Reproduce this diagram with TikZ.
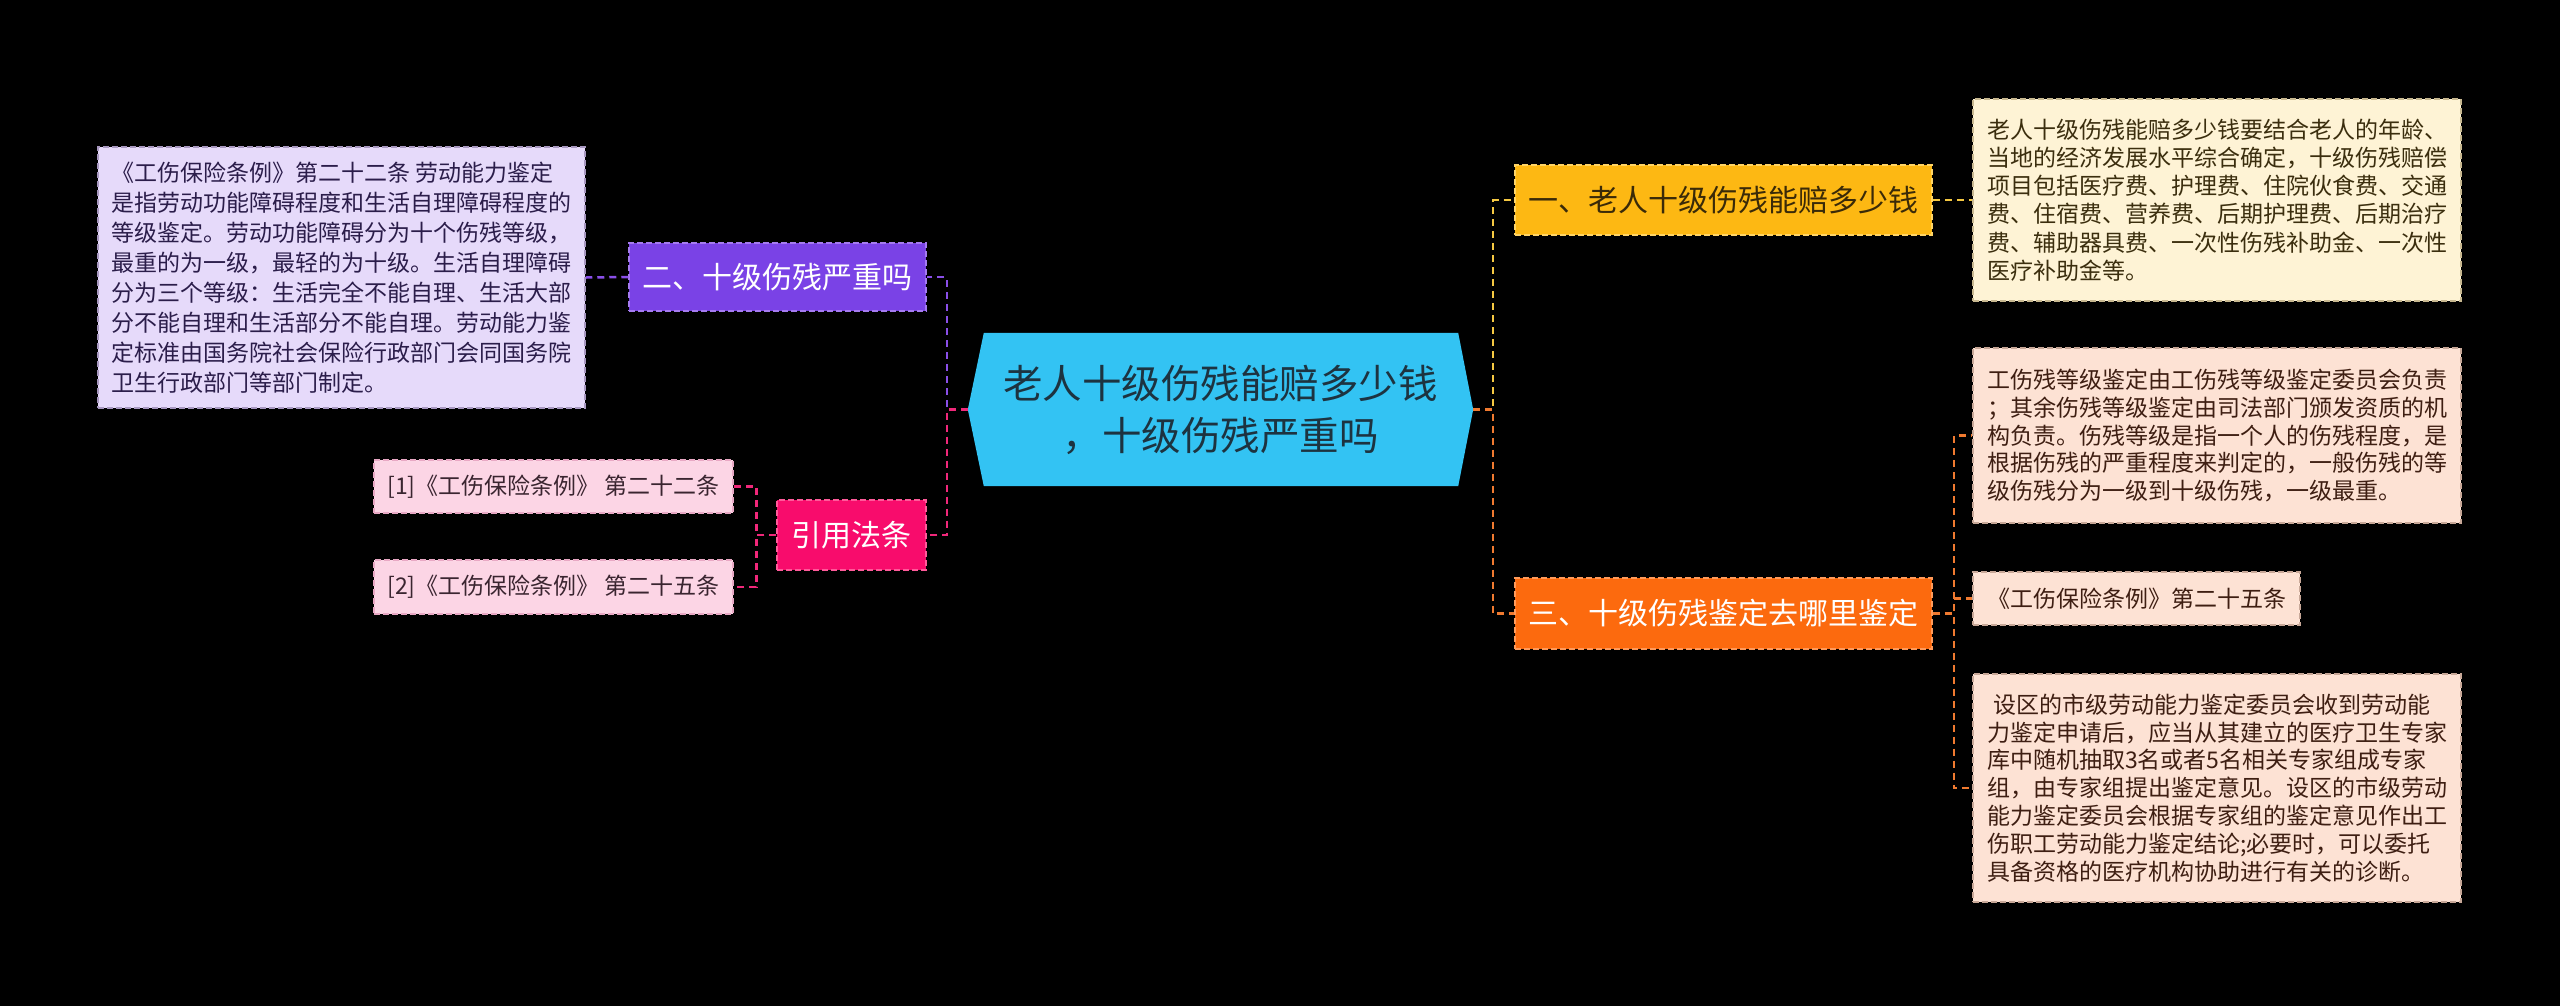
\documentclass[tikz,border=0pt]{standalone}
\usepackage{fontspec}
\setmainfont{Noto Sans CJK SC}
\usetikzlibrary{backgrounds}
\definecolor{bgc}{HTML}{000000}
\definecolor{hexfill}{HTML}{33C3F3}
\definecolor{hextext}{HTML}{1D3340}
\definecolor{purpF}{HTML}{7A42E6}
\definecolor{purpD}{HTML}{A57BF0}
\definecolor{lavF}{HTML}{E6DAFA}
\definecolor{lavD}{HTML}{A898C0}
\definecolor{lavT}{HTML}{2B1D4A}
\definecolor{pinkF}{HTML}{F80C6C}
\definecolor{pinkD}{HTML}{FF5A9A}
\definecolor{rosF}{HTML}{FCD5E5}
\definecolor{rosD}{HTML}{E8A8C4}
\definecolor{rosT}{HTML}{3A2530}
\definecolor{ambF}{HTML}{FDB813}
\definecolor{ambD}{HTML}{FFD466}
\definecolor{ambT}{HTML}{3A2A08}
\definecolor{creF}{HTML}{FEF3D5}
\definecolor{creD}{HTML}{C8B890}
\definecolor{creT}{HTML}{3B2E0E}
\definecolor{orgF}{HTML}{FC6A0E}
\definecolor{orgD}{HTML}{FF9A5A}
\definecolor{peaF}{HTML}{FDE2D4}
\definecolor{peaD}{HTML}{C8A898}
\definecolor{peaT}{HTML}{3E1E12}
\definecolor{cP}{HTML}{8A4FE8}
\definecolor{cR}{HTML}{F0287A}
\definecolor{cY}{HTML}{F5C842}
\definecolor{cO}{HTML}{F07A30}
\begin{document}
\begin{tikzpicture}[x=1pt,y=-1pt,
  boxbase/.style={rectangle, line width=1.5pt, dash pattern=on 6pt off 3pt, inner sep=4pt},
  leafP/.style={boxbase, fill=lavF, draw=lavD, text=lavT, align=left, font=\fontsize{23}{30}\selectfont},
  leafR/.style={boxbase, fill=rosF, draw=rosD, text=rosT, font=\fontsize{23}{28}\selectfont},
  leafY/.style={boxbase, fill=creF, draw=creD, text=creT, align=left, font=\fontsize{23}{28.3}\selectfont},
  leafO/.style={boxbase, fill=peaF, draw=peaD, text=peaT, align=left, font=\fontsize{23}{27.8}\selectfont},
  branch/.style={boxbase, font=\fontsize{30}{36}\selectfont},
  con/.style={line width=2.5pt, dash pattern=on 7pt off 5pt},
  conP/.style={con, draw=cP},
  conR/.style={con, draw=cR},
  conY/.style={con, draw=cY},
  conO/.style={con, draw=cO}]
\useasboundingbox (0,0) rectangle (2560,1005);

% central node
\node[minimum width=505, minimum height=153, inner sep=0pt, align=center, text=hextext,
      font=\fontsize{39.5}{52}\selectfont] (C) at (1220.5,409.5)
  {老人十级伤残能赔多少钱\\，十级伤残严重吗};

% left side
\node[leafP, minimum width=487, minimum height=261] (L1) at (341.5,277.5)
  {《工伤保险条例》第二十二条 劳动能力鉴定\\
   是指劳动功能障碍程度和生活自理障碍程度的\\
   等级鉴定。劳动功能障碍分为十个伤残等级，\\
   最重的为一级，最轻的为十级。生活自理障碍\\
   分为三个等级：生活完全不能自理、生活大部\\
   分不能自理和生活部分不能自理。劳动能力鉴\\
   定标准由国务院社会保险行政部门会同国务院\\
   卫生行政部门等部门制定。};
\node[branch, fill=purpF, draw=purpD, text=white, minimum width=297, minimum height=68] (B2) at (777.5,277) {二、十级伤残严重吗};
\node[leafR, minimum width=359, minimum height=53] (P1) at (553.5,486.5) {[1]《工伤保险条例》 第二十二条};
\node[leafR, minimum width=359, minimum height=54] (P2) at (553.5,587) {[2]《工伤保险条例》 第二十五条};
\node[branch, fill=pinkF, draw=pinkD, text=white, minimum width=149, minimum height=70] (R) at (851.5,535) {引用法条};

% right side
\node[branch, fill=ambF, draw=ambD, text=ambT, minimum width=417, minimum height=70] (B1) at (1723.5,200) {一、老人十级伤残能赔多少钱};
\node[leafY, minimum width=488, minimum height=202] (T1) at (2217,200)
  {老人十级伤残能赔多少钱要结合老人的年龄、\\
   当地的经济发展水平综合确定，十级伤残赔偿\\
   项目包括医疗费、护理费、住院伙食费、交通\\
   费、住宿费、营养费、后期护理费、后期治疗\\
   费、辅助器具费、一次性伤残补助金、一次性\\
   医疗补助金等。};
\node[branch, fill=orgF, draw=orgD, text=white, minimum width=417, minimum height=71] (B3) at (1723.5,613.5) {三、十级伤残鉴定去哪里鉴定};
\node[leafO, minimum width=488, minimum height=175] (T2) at (2217,435.5)
  {工伤残等级鉴定由工伤残等级鉴定委员会负责\\
   ；其余伤残等级鉴定由司法部门颁发资质的机\\
   构负责。伤残等级是指一个人的伤残程度，是\\
   根据伤残的严重程度来判定的，一般伤残的等\\
   级伤残分为一级到十级伤残，一级最重。};
\node[leafO, minimum width=327, minimum height=53] (T3) at (2136.5,598.5) {《工伤保险条例》第二十五条};
\node[leafO, minimum width=488, minimum height=228] (T4) at (2217,788)
  {\hspace{0.3em}设区的市级劳动能力鉴定委员会收到劳动能\\
   力鉴定申请后，应当从其建立的医疗卫生专家\\
   库中随机抽取3名或者5名相关专家组成专家\\
   组，由专家组提出鉴定意见。设区的市级劳动\\
   能力鉴定委员会根据专家组的鉴定意见作出工\\
   伤职工劳动能力鉴定结论;必要时，可以委托\\
   具备资格的医疗机构协助进行有关的诊断。};

% connectors
\draw[conP] (C.west) -- ++(-21,0) |- (B2.east);
\draw[conP] (B2.west) -- (L1.east);
\draw[conR] (C.west) -- ++(-21,0) |- (R.east);
\draw[conR] (R.west) -- ++(-20,0) |- (P1.east);
\draw[conR] (R.west) -- ++(-20,0) |- (P2.east);
\draw[conY] (C.east) -- ++(20,0) |- (B1.west);
\draw[conY] (B1.east) -- (T1.west);
\draw[conO] (C.east) -- ++(20,0) |- (B3.west);
\draw[conO] (B3.east) -- ++(21,0) |- (T2.west);
\draw[conO] (B3.east) -- ++(21,0) |- (T3.west);
\draw[conO] (B3.east) -- ++(21,0) |- (T4.west);

\begin{scope}[on background layer]
\fill[bgc] (-10,-10) rectangle (2570,1015);
\fill[hexfill] (C.west) -- ([xshift=16pt]C.north west) -- ([xshift=-15pt]C.north east)
  -- (C.east) -- ([xshift=-15pt]C.south east) -- ([xshift=16pt]C.south west) -- cycle;
\end{scope}
\end{tikzpicture}
\end{document}
